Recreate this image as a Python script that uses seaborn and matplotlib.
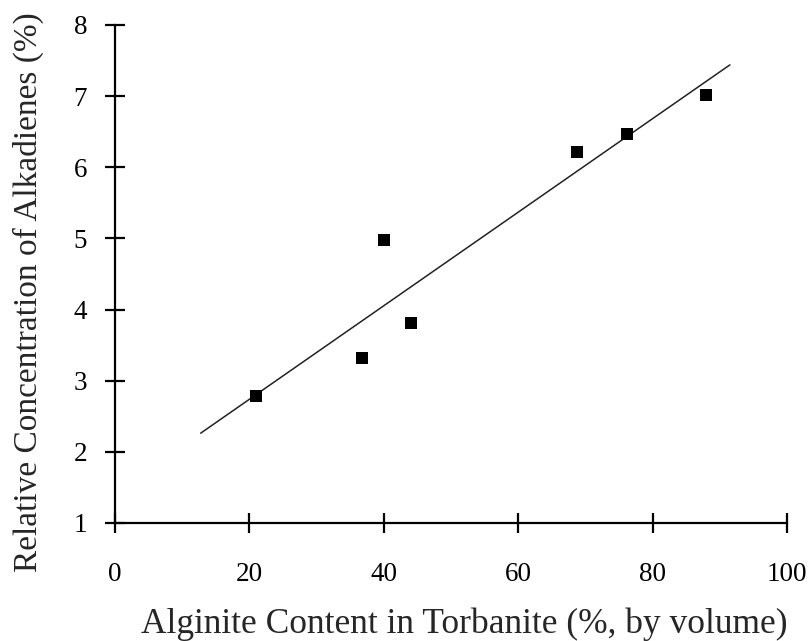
import numpy as np
import pandas as pd
import matplotlib
matplotlib.use("Agg")
import matplotlib.pyplot as plt
import seaborn as sns

# Data
alginite = [21.0, 36.8, 40.0, 44.0, 68.8, 76.2, 88.0]
alkadienes = [2.79, 3.32, 4.98, 3.81, 6.22, 6.47, 7.02]
fit_range = [12.75, 91.5]
x_ticks = [0, 20, 40, 60, 80, 100]
y_ticks = [1, 2, 3, 4, 5, 6, 7, 8]
x_label = "Alginite Content in Torbanite (%, by volume)"
y_label = "Relative Concentration of Alkadienes (%)"

sns.set_style("ticks")
plt.rcParams['font.family'] = ['Liberation Serif', 'DejaVu Serif']

df = pd.DataFrame({"x": alginite, "y": alkadienes})
slope, intercept = np.polyfit(df["x"], df["y"], 1)
fit_df = pd.DataFrame({"x": fit_range,
                       "y": [slope * v + intercept for v in fit_range]})

fig = plt.figure(figsize=(8.08, 6.41), dpi=100)
ax = fig.add_axes([115 / 808, 1 - 523 / 641, (787 - 115) / 808, (523 - 25) / 641])

sns.lineplot(data=fit_df, x="x", y="y", ax=ax, color="#222222", linewidth=1.1)
sns.scatterplot(data=df, x="x", y="y", ax=ax, marker="s", s=70, color="black",
                edgecolor="black", linewidth=0, zorder=3, clip_on=False)

ax.set_xlim(0, 100)
ax.set_ylim(1, 8)
ax.set_xticks(x_ticks)
ax.set_yticks(y_ticks)
ax.set_xticklabels([str(v) for v in x_ticks])
ax.set_yticklabels([str(v) for v in y_ticks])

for s in ["top", "right"]:
    ax.spines[s].set_visible(False)
for s in ["left", "bottom"]:
    ax.spines[s].set_linewidth(1.6)
    ax.spines[s].set_color("black")

ax.tick_params(axis="both", direction="inout", length=14, width=1.6,
               colors="black", labelsize=19.5)
ax.tick_params(axis="x", pad=21)
ax.tick_params(axis="y", pad=13)
for t in ax.get_xticklines() + ax.get_yticklines():
    t.set_clip_on(False)

ax.set_xlabel(x_label, fontsize=25.5)
ax.set_ylabel(y_label, fontsize=24)
ax.xaxis.set_label_coords((464 - 115) / 672, (523 - 624) / 498)
ax.xaxis.label.set_verticalalignment("center")
ax.yaxis.set_label_coords((28 - 115) / 672, (523 - 292) / 498)
ax.yaxis.label.set_verticalalignment("center")

fig.savefig("out.png", dpi=100)
